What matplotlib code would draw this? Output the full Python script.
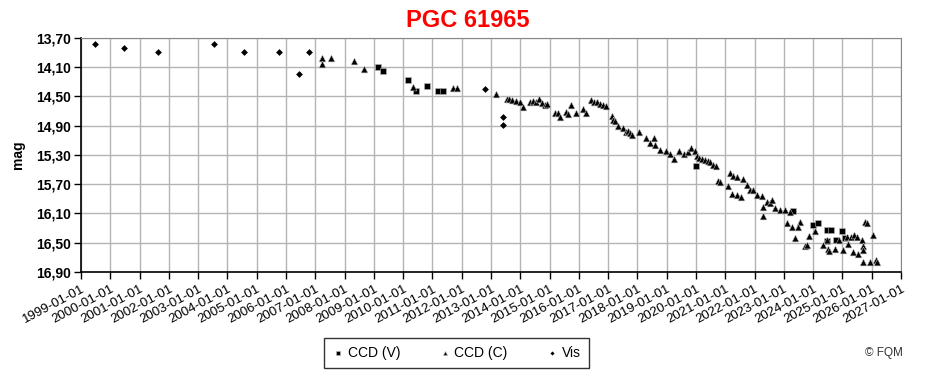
import matplotlib
matplotlib.use("Agg")
import matplotlib.pyplot as plt
from matplotlib.ticker import FixedLocator, FuncFormatter
import numpy as np

plt.rcParams['font.family'] = ['Liberation Sans', 'DejaVu Sans']

vis_t = [1999.48, 2000.47, 2001.63, 2003.54, 2004.57, 2005.76, 2006.44, 2006.78,
         2012.79, 2013.41, 2013.41]
vis_m = [13.78, 13.84, 13.89, 13.78, 13.89, 13.89, 14.19, 13.89,
         14.40, 14.78, 14.89]

ccdv_t = [2009.13, 2009.31, 2010.15, 2010.44, 2010.80, 2011.18, 2011.35, 2020.00,
          2023.30, 2024.00, 2024.16, 2024.46, 2024.48, 2024.60, 2024.78, 2024.97,
          2025.10]
ccdv_m = [14.09, 14.15, 14.28, 14.42, 14.35, 14.42, 14.43, 15.45,
          16.06, 16.26, 16.23, 16.47, 16.32, 16.32, 16.46, 16.34,
          16.43]

ccdc_t = [2007.24, 2007.24, 2007.54, 2008.32, 2008.67, 2010.33, 2011.71, 2011.85,
          2013.17, 2013.54, 2013.61, 2013.72, 2013.85, 2013.99, 2014.10,
          2014.33, 2014.43, 2014.54, 2014.64, 2014.74, 2014.84, 2014.91,
          2015.19, 2015.29, 2015.36, 2015.56, 2015.64, 2015.73, 2015.90, 2016.15, 2016.24,
          2016.41, 2016.52, 2016.62, 2016.72, 2016.82, 2016.92, 2017.12, 2017.18, 2017.23,
          2017.35, 2017.50, 2017.61, 2017.68, 2017.75, 2017.81, 2018.06, 2018.28, 2018.43,
          2018.57, 2018.60, 2018.77, 2018.97, 2019.11, 2019.26, 2019.43, 2019.59, 2019.73,
          2019.83, 2019.97, 2020.03, 2020.10, 2020.19, 2020.31, 2020.42, 2020.48, 2020.59,
          2020.68, 2020.76, 2020.82,
          2021.10, 2021.16, 2021.27, 2021.39, 2021.22, 2021.41, 2021.53, 2021.61, 2021.73,
          2021.84, 2021.96, 2022.09, 2022.24, 2022.41, 2022.53, 2022.58, 2022.30, 2022.28,
          2022.70, 2022.87, 2023.04, 2023.21, 2023.10, 2023.27, 2023.55, 2023.49, 2023.38,
          2023.72, 2023.80, 2023.87, 2024.06, 2024.35, 2024.46, 2024.52, 2024.55, 2024.75,
          2024.89, 2025.03, 2025.14, 2025.20, 2025.28, 2025.35, 2025.39, 2025.51, 2025.54,
          2025.66, 2025.69, 2025.69, 2025.77, 2025.83, 2025.71, 2025.94, 2026.05, 2026.15,
          2026.17]
ccdc_m = [13.97, 14.06, 13.98, 14.02, 14.13, 14.37, 14.39, 14.39,
          14.46, 14.54, 14.54, 14.55, 14.56, 14.57, 14.64,
          14.58, 14.56, 14.58, 14.54, 14.59, 14.62, 14.60,
          14.73, 14.73, 14.78, 14.71, 14.74, 14.62, 14.73, 14.67, 14.72,
          14.55, 14.57, 14.58, 14.60, 14.61, 14.63, 14.77, 14.82, 14.84,
          14.91, 14.93, 14.99, 14.97, 15.00, 15.02, 14.99, 15.07, 15.14,
          15.07, 15.16, 15.23, 15.24, 15.29, 15.35, 15.25, 15.29, 15.26,
          15.21, 15.25, 15.32, 15.34, 15.35, 15.37, 15.38, 15.39, 15.44,
          15.45, 15.66, 15.67,
          15.73, 15.54, 15.59, 15.60, 15.84, 15.85, 15.87, 15.63, 15.71,
          15.78, 15.78, 15.85, 15.86, 15.94, 15.96, 15.92, 16.01, 16.14,
          16.03, 16.05, 16.05, 16.08, 16.23, 16.29, 16.21, 16.29, 16.44,
          16.55, 16.53, 16.41, 16.34, 16.53, 16.46, 16.58, 16.61, 16.58,
          16.46, 16.60, 16.42, 16.52, 16.42, 16.62, 16.39, 16.42, 16.65,
          16.46, 16.55, 16.60, 16.21, 16.23, 16.77, 16.76, 16.39, 16.73,
          16.76]

years = list(range(1999, 2028))
mag_ticks = [13.70, 14.10, 14.50, 14.90, 15.30, 15.70, 16.10, 16.50, 16.90]

fig = plt.figure(figsize=(9.3, 3.75), dpi=100)
ax = fig.add_axes([0.0871, 0.2747, 0.8817, 0.624])

ax.scatter(ccdv_t, ccdv_m, marker='s', s=22, color='black', edgecolors='#bbbbbb',
           linewidths=0.4, label='CCD (V)', zorder=3)
ax.scatter(ccdc_t, ccdc_m, marker='^', s=24, color='black', edgecolors='#bbbbbb',
           linewidths=0.4, label='CCD (C)', zorder=3)
ax.scatter(vis_t, vis_m, marker='D', s=12, color='black', linewidths=0,
           label='Vis', zorder=3)

ax.set_xlim(years[0], years[-1])
ax.set_ylim(mag_ticks[-1], mag_ticks[0])
ax.xaxis.set_major_locator(FixedLocator(years))
ax.xaxis.set_major_formatter(FuncFormatter(lambda v, p: f"{int(round(v))}-01-01"))
ax.yaxis.set_major_locator(FixedLocator(mag_ticks))
ax.yaxis.set_major_formatter(FuncFormatter(lambda v, p: f"{v:.2f}".replace('.', ',')))

ax.grid(True, color='#b4b4b4', linewidth=1)
ax.set_axisbelow(True)
for s in ['top', 'right']:
    ax.spines[s].set_color('#888888')
for s in ['left', 'bottom']:
    ax.spines[s].set_color('black')
    ax.spines[s].set_linewidth(1.2)

ax.tick_params(axis='x', direction='out', length=5, width=1, labelsize=9.5, pad=3)
ax.tick_params(axis='y', direction='out', length=5, width=1, labelsize=10, pad=2)
for lab in ax.get_xticklabels():
    lab.set_rotation(28)
    lab.set_ha('right')
    lab.set_rotation_mode('anchor')
for lab in ax.get_yticklabels():
    lab.set_fontweight('bold')

ax.set_ylabel('mag', fontsize=10, fontweight='bold', labelpad=8)
fig.text(0.503, 0.945, 'PGC 61965', color='#ff0000', fontsize=17,
         fontweight='bold', ha='center', va='center')

leg = fig.legend(loc='center', bbox_to_anchor=(0.491, 0.059), ncol=3,
                 fontsize=10, frameon=True, fancybox=False, edgecolor='black',
                 handlelength=0.8, handletextpad=0.3, columnspacing=2.8,
                 markerscale=0.6, borderpad=0.6)
leg.get_frame().set_linewidth(1)

fig.text(0.971, 0.059, '\u00a9 FQM', fontsize=8.5, color='#333333',
         ha='right', va='center')

fig.savefig('out.png', dpi=100)
